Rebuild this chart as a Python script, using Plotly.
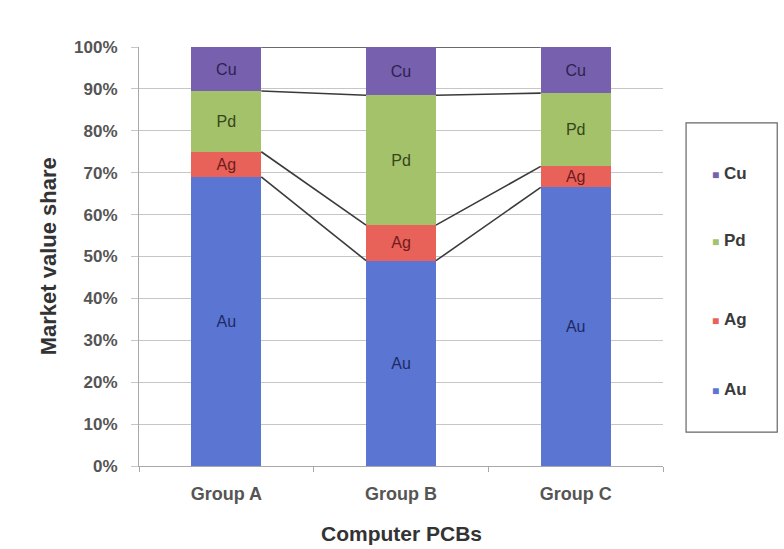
import plotly.graph_objects as go

# Market value share of precious metals in computer PCBs (%)
groups = ["Group A", "Group B", "Group C"]
metals = ["Au", "Ag", "Pd", "Cu"]
au = [69.0, 49.0, 66.5]
ag = [6.0, 8.5, 5.0]
pd_ = [14.5, 31.0, 17.5]
cu = [10.5, 11.5, 11.0]
y_ticks = [0, 10, 20, 30, 40, 50, 60, 70, 80, 90, 100]
y_tick_labels = [f"{v}%" for v in y_ticks]

series = [au, ag, pd_, cu]
fills = ["#5a76d2", "#e9625a", "#a3c26a", "#7760ad"]
label_colors = ["#1e2a66", "#6e1c1c", "#36461a", "#2c2350"]

FONT = "Liberation Sans, Arial"
BAR_W = 0.4
x = list(range(len(groups)))

fig = go.Figure()

for name, vals, col, lc in zip(metals, series, fills, label_colors):
    fig.add_trace(go.Bar(
        x=x, y=vals, name=name, width=BAR_W,
        marker=dict(color=col, line=dict(width=0)),
        text=[name] * len(vals), textposition="inside",
        insidetextanchor="middle", textangle=0,
        textfont=dict(family=FONT, size=16, color=lc),
        constraintext="none", showlegend=False,
    ))

# series lines joining the top of each segment between neighbouring bars
tops = [0.0] * len(groups)
for vals in series:
    tops = [t + v for t, v in zip(tops, vals)]
    for i in range(len(groups) - 1):
        fig.add_trace(go.Scatter(
            x=[x[i] + BAR_W / 2, x[i + 1] - BAR_W / 2],
            y=[tops[i], tops[i + 1]],
            mode="lines", line=dict(color="#3a3a3a", width=1.6),
            showlegend=False, hoverinfo="skip",
        ))

fig.update_layout(
    barmode="stack",
    width=784, height=549,
    margin=dict(l=139, r=121, t=47, b=83),
    paper_bgcolor="white", plot_bgcolor="white",
    font=dict(family=FONT, color="#555555"),
    showlegend=False,
    xaxis=dict(
        range=[-0.5, 2.5], tickvals=x, ticktext=groups,
        tickfont=dict(size=18, color="#555555", weight="bold"),
        showgrid=False, zeroline=False,
        showline=True, linecolor="#a8a8a8", linewidth=1,
        ticks="", ticklabelstandoff=11,
        minor=dict(tickvals=[-0.5, 0.5, 1.5, 2.5], ticks="outside",
                   ticklen=5, tickcolor="#a8a8a8"),
    ),
    yaxis=dict(
        range=[0, 100], tickvals=y_ticks, ticktext=y_tick_labels,
        tickfont=dict(size=17, color="#555555", weight="bold"),
        showgrid=True, gridcolor="#c6c6c6", gridwidth=1,
        zeroline=False, showline=True, linecolor="#a8a8a8", linewidth=1,
        ticks="outside", ticklen=7, tickcolor="#c6c6c6",
        ticklabelstandoff=10,
    ),
)

# axis titles
fig.add_annotation(text="<b>Market value share</b>", xref="paper", yref="paper",
                   x=-0.172, y=0.5, textangle=-90, showarrow=False,
                   xanchor="center", yanchor="middle",
                   font=dict(size=22, color="#333333"))
fig.add_annotation(text="<b>Computer PCBs</b>", xref="paper", yref="paper",
                   x=0.5, y=-0.162, showarrow=False,
                   xanchor="center", yanchor="middle",
                   font=dict(size=21, color="#333333"))

# legend box with entries listed top to bottom (Cu first)
fig.add_shape(type="rect", xref="paper", yref="paper",
              x0=1.044, x1=1.218, y0=0.081, y1=0.819,
              line=dict(color="#666666", width=1.2), fillcolor="white")
legend_y = [0.699, 0.539, 0.349, 0.182]
for (name, col), yy in zip(list(zip(metals, fills))[::-1], legend_y):
    fig.add_annotation(
        text=f"<span style='color:{col};font-size:12px'>■</span> <b>{name}</b>",
        xref="paper", yref="paper", x=1.090, y=yy, showarrow=False,
        xanchor="left", yanchor="middle",
        font=dict(size=17, color="#3a3a3a"),
    )

fig.write_html("out.html")
